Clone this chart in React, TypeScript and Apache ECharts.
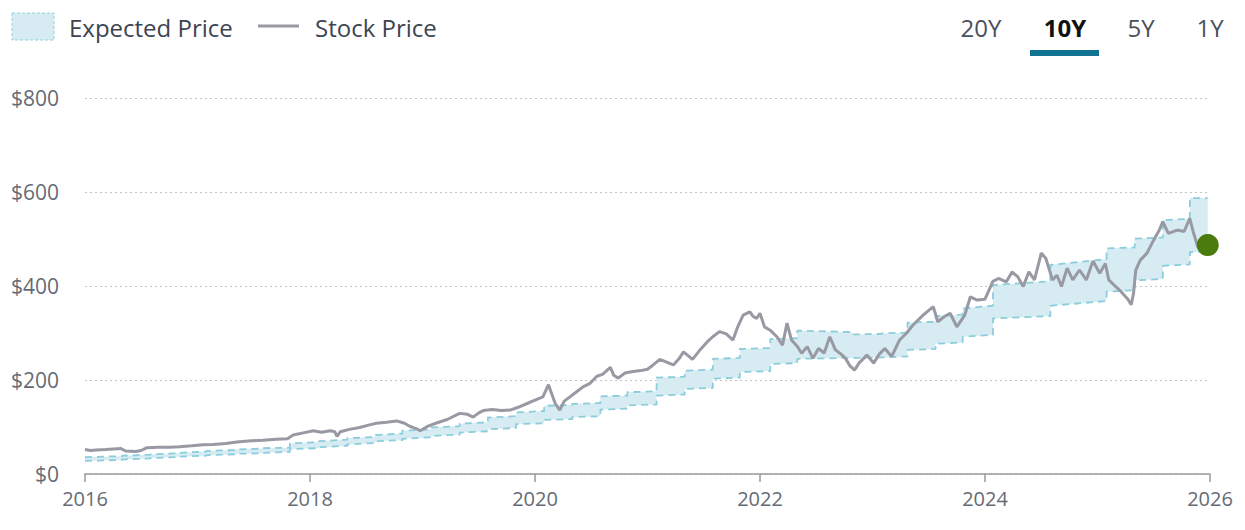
import React, { useEffect, useRef } from "react";
import * as echarts from "echarts";

// ---- Data ----
const xTicks = [2016, 2018, 2020, 2022, 2024, 2026];
const yTicks = [0, 200, 400, 600, 800];
const tabLabels = ["20Y", "10Y", "5Y", "1Y"];
const activeTab = "10Y";

// Expected price band: segments (decimal years) with start/end values
const bandStart = [2016.0, 2016.33, 2016.58, 2016.83, 2017.08, 2017.33, 2017.58, 2017.82, 2018.08, 2018.33, 2018.58, 2018.82, 2019.08, 2019.33, 2019.58, 2019.83, 2020.08, 2020.33, 2020.58, 2020.82, 2021.08, 2021.33, 2021.58, 2021.82, 2022.09, 2022.33, 2022.82, 2023.08, 2023.31, 2023.56, 2023.8, 2024.07, 2024.58, 2025.08, 2025.33, 2025.58, 2025.82];
const bandEnd = [2016.33, 2016.58, 2016.83, 2017.08, 2017.33, 2017.58, 2017.82, 2018.08, 2018.33, 2018.58, 2018.82, 2019.08, 2019.33, 2019.58, 2019.83, 2020.08, 2020.33, 2020.58, 2020.82, 2021.08, 2021.33, 2021.58, 2021.82, 2022.09, 2022.33, 2022.82, 2023.08, 2023.31, 2023.56, 2023.8, 2024.07, 2024.58, 2025.08, 2025.33, 2025.58, 2025.82, 2025.98];
const bandLowStart = [28, 31, 34, 37, 40, 43, 45, 53, 57, 63, 70, 75, 81, 88, 95, 106, 115, 121, 137, 146, 167, 181, 203, 217, 234, 245, 247, 248, 264, 277, 292, 331, 358, 388, 412, 443, 472];
const bandLowEnd = [30, 33, 36, 39, 42, 44, 47, 55, 60, 66, 72, 78, 84, 91, 98, 108, 117, 123, 139, 148, 169, 183, 205, 219, 236, 247, 248, 250, 266, 280, 296, 336, 368, 391, 415, 446, 473];
const bandHighStart = [36, 39, 42, 45, 49, 52, 55, 65, 70, 76, 83, 92, 99, 107, 120, 131, 145, 149, 165, 174, 205, 220, 245, 266, 287, 305, 297, 299, 322, 336, 352, 402, 445, 480, 501, 540, 587];
const bandHighEnd = [38, 41, 44, 48, 51, 54, 56, 68, 73, 79, 86, 95, 102, 110, 123, 134, 147, 151, 167, 176, 207, 222, 247, 268, 289, 302, 298, 301, 324, 339, 358, 410, 457, 482, 503, 543, 587];

// Stock price (decimal year, price)
const stockYears = [
  2016.0, 2016.05, 2016.1, 2016.18, 2016.25, 2016.32, 2016.36, 2016.45, 2016.5, 2016.55, 2016.65, 2016.75, 2016.84, 2016.95,
  2017.05, 2017.14, 2017.25, 2017.35, 2017.45, 2017.58, 2017.7, 2017.8, 2017.85, 2017.95,
  2018.03, 2018.1, 2018.18, 2018.22, 2018.24, 2018.27, 2018.35, 2018.44, 2018.52, 2018.59, 2018.68, 2018.77, 2018.84, 2018.89, 2018.95, 2018.98,
  2019.05, 2019.13, 2019.22, 2019.33, 2019.4, 2019.45, 2019.5, 2019.54, 2019.62, 2019.7, 2019.78, 2019.85, 2019.93,
  2020.0, 2020.07, 2020.12, 2020.14, 2020.18, 2020.22, 2020.26, 2020.31, 2020.37, 2020.43, 2020.49, 2020.55, 2020.6, 2020.67, 2020.7, 2020.74, 2020.8, 2020.87, 2020.94,
  2021.0, 2021.05, 2021.11, 2021.17, 2021.23, 2021.28, 2021.32, 2021.36, 2021.4, 2021.46, 2021.53, 2021.58, 2021.64, 2021.7, 2021.76, 2021.8, 2021.85, 2021.91, 2021.94, 2021.97,
  2022.0, 2022.04, 2022.09, 2022.15, 2022.2, 2022.24, 2022.28, 2022.33, 2022.37, 2022.42, 2022.47, 2022.52, 2022.57, 2022.62, 2022.67, 2022.72, 2022.76, 2022.8, 2022.84, 2022.88, 2022.95,
  2023.01, 2023.06, 2023.11, 2023.17, 2023.24, 2023.3, 2023.36, 2023.45, 2023.54, 2023.58, 2023.64, 2023.69, 2023.75, 2023.82, 2023.87, 2023.93,
  2024.0, 2024.07, 2024.12, 2024.19, 2024.24, 2024.29, 2024.34, 2024.39, 2024.44, 2024.5, 2024.54, 2024.6, 2024.64, 2024.68, 2024.73, 2024.78, 2024.84, 2024.9, 2024.96,
  2025.02, 2025.07, 2025.1, 2025.16, 2025.21, 2025.27, 2025.3, 2025.32, 2025.34, 2025.38, 2025.44, 2025.5, 2025.55, 2025.58, 2025.63, 2025.71, 2025.77, 2025.82, 2025.85, 2025.89, 2025.92, 2025.95,
];
const stockPrices = [
  52, 50, 51, 52, 53, 54, 49, 48, 50, 56, 57, 57, 58, 60,
  62, 63, 65, 68, 70, 72, 74, 75, 83, 88,
  92, 89, 92, 90, 80, 90, 95, 99, 104, 108, 110, 113, 108, 101, 96, 92,
  102, 109, 116, 129, 127, 121, 130, 135, 137, 135, 136, 142, 150,
  157, 164, 190, 176, 150, 136, 155, 164, 175, 186, 193, 208, 212, 227, 210, 204, 215, 218, 220,
  223, 232, 244, 238, 232, 245, 260, 252, 244, 262, 281, 292, 303, 298, 285, 312, 338, 345, 335, 331,
  342, 313, 306, 292, 274, 321, 285, 272, 257, 271, 246, 267, 257, 292, 264, 255, 246, 230, 221, 236, 253,
  236, 255, 267, 250, 285, 299, 317, 338, 356, 324, 335, 342, 313, 338, 377, 370,
  372, 410, 416, 409, 430, 420, 399, 430, 413, 470, 459, 413, 423, 399, 438, 413, 434, 413, 453,
  427, 448, 413, 399, 388, 372, 360, 384, 434, 455, 470, 498, 519, 537, 512, 519, 516, 544, 516, 484, 477, 487,
];
const currentYear = 2025.98;
const currentPrice = 487;

export default function App() {
  const ref = useRef<HTMLDivElement>(null);

  useEffect(() => {
    if (!ref.current) return;
    const chart = echarts.init(ref.current, undefined, { renderer: "svg" });

    const bandPts: number[][] = [];
    bandStart.forEach((s, i) => {
      bandPts.push([i === 0 ? s : s + 0.002, bandLowStart[i], bandHighStart[i]]);
      bandPts.push([bandEnd[i], bandLowEnd[i], bandHighEnd[i]]);
    });

    const stockData = stockYears.map((y, i) => [y, stockPrices[i]]);
    const font = "'Open Sans', 'Noto Sans', sans-serif";
    const tabX = [981, 1065, 1141, 1210];

    const option: any = {
      animation: false,
      grid: { left: 85, right: 35, top: 98, bottom: 56, containLabel: false },
      xAxis: {
        type: "value",
        min: xTicks[0],
        max: xTicks[xTicks.length - 1],
        interval: 2,
        axisLine: { show: true, lineStyle: { color: "#9a9a9a", width: 1.5 } },
        axisTick: { show: true, length: 8, lineStyle: { color: "#9a9a9a", width: 1.5 } },
        axisLabel: {
          color: "#666b73",
          fontSize: 20,
          fontFamily: font,
          margin: 14,
          formatter: (v: number) => String(v),
        },
        splitLine: { show: false },
      },
      yAxis: {
        type: "value",
        min: yTicks[0],
        max: yTicks[yTicks.length - 1],
        interval: 200,
        axisLine: { show: false },
        axisTick: { show: false },
        axisLabel: {
          color: "#666b73",
          fontSize: 21,
          fontFamily: font,
          margin: 26,
          formatter: (v: number) => "$" + v,
        },
        splitLine: {
          show: true,
          lineStyle: { color: "#c4c4c4", type: [2, 3], width: 1.2 },
        },
      },
      series: [
        {
          type: "custom",
          name: "Expected Price",
          data: bandPts,
          encode: { x: 0, y: [1, 2] },
          clip: true,
          z: 1,
          renderItem: (params: any, api: any) => {
            if (params.dataIndex !== 0) return null;
            const up = bandPts.map((p) => api.coord([p[0], p[2]]));
            const lo = bandPts.map((p) => api.coord([p[0], p[1]]));
            return {
              type: "group",
              children: [
                {
                  type: "polygon",
                  shape: { points: up.concat(lo.slice().reverse()) },
                  style: { fill: "#d6ecf2", stroke: null },
                },
                {
                  type: "polyline",
                  shape: { points: up },
                  style: { fill: null, stroke: "#8ccddc", lineWidth: 1.8, lineDash: [7, 5] },
                },
                {
                  type: "polyline",
                  shape: { points: lo },
                  style: { fill: null, stroke: "#8ccddc", lineWidth: 1.8, lineDash: [7, 5] },
                },
              ],
            };
          },
        },
        {
          type: "line",
          name: "Stock Price",
          data: stockData,
          showSymbol: false,
          symbol: "none",
          z: 3,
          lineStyle: { color: "#9899a3", width: 3 },
        },
        {
          type: "scatter",
          name: "Current",
          data: [[currentYear, currentPrice]],
          symbolSize: 22,
          z: 4,
          itemStyle: { color: "#4b7b0c", opacity: 1 },
        },
      ],
      graphic: [
        {
          type: "rect",
          shape: { x: 12, y: 13, width: 42, height: 27 },
          style: { fill: "#d6ecf2", stroke: "#92d0de", lineWidth: 1, lineDash: [3, 2] },
        },
        {
          type: "text",
          x: 69,
          y: 27,
          style: { text: "Expected Price", fill: "#3d4452", font: `24px ${font}`, verticalAlign: "middle" },
        },
        {
          type: "line",
          shape: { x1: 258, y1: 26, x2: 299, y2: 26 },
          style: { stroke: "#9899a3", lineWidth: 3 },
        },
        {
          type: "text",
          x: 315,
          y: 27,
          style: { text: "Stock Price", fill: "#3d4452", font: `24px ${font}`, verticalAlign: "middle" },
        },
        ...tabLabels.map((t, i) => ({
          type: "text",
          x: tabX[i],
          y: 27,
          style: {
            text: t,
            fill: t === activeTab ? "#111111" : "#4a505c",
            font: `${t === activeTab ? "bold " : ""}24px ${font}`,
            align: "center",
            verticalAlign: "middle",
          },
        })),
        {
          type: "rect",
          shape: { x: 1030, y: 50, width: 69, height: 6 },
          style: { fill: "#0f7391" },
        },
      ],
    };

    chart.setOption(option);
    return () => chart.dispose();
  }, []);

  return (
    <div
      ref={ref}
      style={{ position: "absolute", left: 0, top: 0, width: 1245, height: 530 }}
    />
  );
}
